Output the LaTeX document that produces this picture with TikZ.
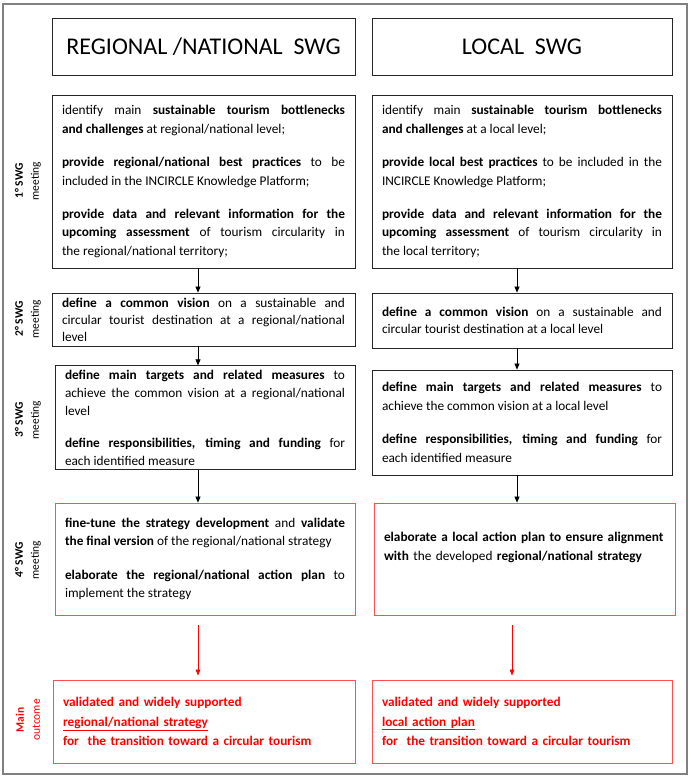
\documentclass[tikz,border=0pt]{standalone}
\usepackage{fontspec}
\setmainfont{Carlito}
\usetikzlibrary{arrows.meta,calc}
\definecolor{framegray}{RGB}{128,128,128}
\definecolor{redline}{RGB}{255,80,80}
\definecolor{redtext}{RGB}{255,0,0}
\setlength{\parindent}{0pt}
\newcommand{\pgap}{\par\vspace{14.5pt}}

\begin{document}
\begin{tikzpicture}[
  x=1pt, y=-1pt,
  box/.style={draw=black!85, line width=0.8pt, inner xsep=10pt, inner ysep=4pt,
              text width=283pt, align=justify, font=\fontsize{13.3}{18.7}\selectfont},
  hdr/.style={draw=black!85, line width=0.8pt, align=center, inner sep=0pt,
              font=\fontsize{24}{27}\selectfont},
  redbox/.style={box, draw=redline},
  outbox/.style={redbox, align=left, text=redtext,
                 font=\fontsize{13.3}{19.5}\selectfont\bfseries},
  side/.style={rotate=90, align=center, inner sep=0pt,
               font=\fontsize{11.5}{16}\selectfont},
  ar/.style={-{Triangle[length=6pt,width=5pt]}, line width=0.7pt, draw=black},
  rar/.style={-{Triangle[length=6pt,width=4.5pt]}, line width=0.7pt, draw=redtext},
]
\useasboundingbox (0,0) rectangle (691,777);
\draw[framegray, line width=2.5pt] (3,4) rectangle (687,774);

% column heads
\node[hdr, minimum width=303pt, minimum height=57pt] (hdrL) at (203.5,46.5) {REGIONAL /NATIONAL\ \ SWG};
\node[hdr, minimum width=300pt, minimum height=57pt] (hdrR) at (522,46.5) {LOCAL\ \ SWG};

% 1st meeting
\node[box, minimum height=173pt] (b1L) at (203.5,181.5) {identify main \textbf{sustainable tourism bottlenecks}\linebreak
  \textbf{and challenges} at regional/national level;\pgap
  \textbf{provide regional/national best practices} to be\linebreak
  included in the INCIRCLE Knowledge Platform;\pgap
  \textbf{provide data and relevant information for the}\linebreak
  \textbf{upcoming assessment} of tourism circularity in\linebreak
  the regional/national territory;};
\node[box, text width=280pt, minimum height=173pt] (b1R) at (522,181.5) {identify main \textbf{sustainable tourism bottlenecks}\linebreak
  \textbf{and challenges} at a local level;\pgap
  \textbf{provide local best practices} to be included in the\linebreak
  INCIRCLE Knowledge Platform;\pgap
  \textbf{provide data and relevant information for the}\linebreak
  \textbf{upcoming assessment} of tourism circularity in\linebreak
  the local territory;};

% 2nd meeting
\node[box, minimum height=53pt, font=\fontsize{13.3}{17}\selectfont] (b2L) at (203.5,319.5) {\textbf{define a common vision} on a sustainable and\linebreak
  circular tourist destination at a regional/national\linebreak
  level};
\node[box, text width=280pt, minimum height=55pt, font=\fontsize{13.3}{17}\selectfont] (b2R) at (522,320.5) {\textbf{define a common vision} on a sustainable and\linebreak
  circular tourist destination at a local level};

% 3rd meeting
\node[box, text width=280pt, minimum height=95pt, font=\fontsize{13.3}{18}\selectfont] (b3L) at (205,417.5) {\textbf{define main targets and related measures} to\linebreak
  achieve the common vision at a regional/national\linebreak
  level\par\vspace{14pt}
  \textbf{define responsibilities, timing and funding} for\linebreak
  each identified measure};
\node[box, text width=280pt, minimum height=105pt] (b3R) at (522,422.5) {\textbf{define main targets and related measures} to\linebreak
  achieve the common vision at a local level\pgap
  \textbf{define responsibilities, timing and funding} for\linebreak
  each identified measure};

% 4th meeting
\node[redbox, text width=280pt, minimum height=112pt] (b4L) at (205,559) {\textbf{fine-tune the strategy development} and \textbf{validate}\linebreak
  \textbf{the final version} of the regional/national strategy\pgap
  \textbf{elaborate the regional/national action plan} to\linebreak
  implement the strategy};
\node[redbox, text width=281pt, minimum height=112pt, align=left] (b4R) at (524.5,559) {\textbf{elaborate a local action plan to ensure alignment}\\
  \textbf{with} the developed \textbf{regional/national strategy}\par\vspace*{7pt}\mbox{}};

% main outcome
\node[outbox, text width=282pt, minimum height=83pt] (b5L) at (204,721.5) {validated and widely supported\\
  \underline{regional/national strategy}\\
  for\ \ the transition toward a circular tourism};
\node[outbox, text width=280pt, minimum height=83pt] (b5R) at (522,721.5) {validated and widely supported\\
  \underline{local action plan}\\
  for\ \ the transition toward a circular tourism};

% row labels
\node[side] (m1) at (28,181) {\textbf{1° SWG}\\meeting};
\node[side] (m2) at (28,319) {\textbf{2° SWG}\\meeting};
\node[side] (m3) at (28,420) {\textbf{3° SWG}\\meeting};
\node[side] (m4) at (28,560) {\textbf{4° SWG}\\meeting};
\node[side, text=redtext] (m5) at (28,720) {\textbf{Main}\\outcome};

% arrows
\draw[ar] ([xshift=-5.5pt]b1L.south) -- ([xshift=-5.5pt]b2L.north);
\draw[ar] ([xshift=-5pt]b1R.south) -- ([xshift=-5pt]b2R.north);
\draw[ar] ([xshift=-5.5pt]b2L.south) -- ([xshift=-7pt]b3L.north);
\draw[ar] ([xshift=-5pt]b2R.south) -- ([xshift=-5pt]b3R.north);
\draw[ar] ([xshift=-7pt]b3L.south) -- ([xshift=-7pt]b4L.north);
\draw[ar] ([xshift=-5pt]b3R.south) -- ([xshift=-7.5pt]b4R.north);

\draw[rar] ([xshift=-7pt,yshift=-10pt]b4L.south) -- ([xshift=-6pt,yshift=4pt]b5L.north);
\draw[rar] ([xshift=-12.5pt,yshift=-10pt]b4R.south) -- ([xshift=-10pt,yshift=4pt]b5R.north);
\end{tikzpicture}
\end{document}
